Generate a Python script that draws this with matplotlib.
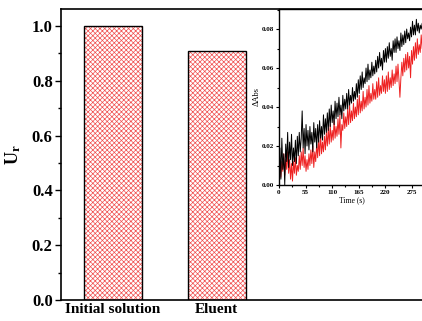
import numpy as np
import matplotlib
matplotlib.use("Agg")
import matplotlib.pyplot as plt
from matplotlib.ticker import MultipleLocator, FormatStrFormatter

plt.rcParams['font.family'] = ['Liberation Serif', 'DejaVu Serif']
plt.rcParams['font.weight'] = 'bold'
plt.rcParams['mathtext.fontset'] = 'custom'
plt.rcParams['mathtext.rm'] = 'Liberation Serif:bold'
plt.rcParams['mathtext.bf'] = 'Liberation Serif:bold'
plt.rcParams['mathtext.it'] = 'Liberation Serif:bold'
plt.rcParams['hatch.linewidth'] = 0.5

categories = ["Initial solution", "Eluent"]
ur_values = [1.0, 0.91]

time_s = np.arange(0, 300, 2)
black_abs = [
    0.010, 0.019, 0.003, 0.024, 0.008, 0.016, 0.000, 0.021, 0.012, 0.027,
    0.009, 0.022, 0.013, 0.026, 0.010, 0.019, 0.012, 0.023, 0.011, 0.025,
    0.015, 0.027, 0.017, 0.024, 0.038, 0.019, 0.029, 0.016, 0.031, 0.020,
    0.028, 0.018, 0.030, 0.021, 0.027, 0.017, 0.032, 0.022, 0.029, 0.019,
    0.031, 0.022, 0.033, 0.024, 0.030, 0.023, 0.036, 0.026, 0.034, 0.027,
    0.037, 0.028, 0.039, 0.030, 0.041, 0.032, 0.038, 0.031, 0.043, 0.034,
    0.042, 0.035, 0.045, 0.036, 0.041, 0.034, 0.046, 0.038, 0.044, 0.039,
    0.047, 0.039, 0.049, 0.041, 0.046, 0.042, 0.050, 0.043, 0.048, 0.044,
    0.052, 0.045, 0.054, 0.047, 0.056, 0.049, 0.058, 0.050, 0.055, 0.052,
    0.060, 0.053, 0.062, 0.054, 0.059, 0.055, 0.063, 0.056, 0.061, 0.057,
    0.064, 0.058, 0.066, 0.060, 0.068, 0.061, 0.065, 0.059, 0.069, 0.063,
    0.070, 0.063, 0.071, 0.065, 0.073, 0.066, 0.070, 0.064, 0.074, 0.068,
    0.075, 0.068, 0.076, 0.070, 0.074, 0.069, 0.078, 0.071, 0.077, 0.072,
    0.079, 0.073, 0.080, 0.075, 0.078, 0.074, 0.081, 0.076, 0.084, 0.077,
    0.082, 0.077, 0.085, 0.079, 0.083, 0.078, 0.082, 0.080, 0.083, 0.081,
]
red_abs = [
    0.006, 0.014, 0.004, 0.012, 0.007, 0.016, 0.005, 0.013, 0.008, 0.017,
    0.006, 0.013, 0.003, 0.011, 0.002, 0.012, 0.006, 0.014, 0.005, 0.010,
    0.007, 0.015, 0.008, 0.017, 0.010, 0.019, 0.009, 0.015, 0.007, 0.013,
    0.008, 0.016, 0.010, 0.018, 0.011, 0.020, 0.009, 0.017, 0.012, 0.021,
    0.014, 0.023, 0.015, 0.026, 0.016, 0.022, 0.017, 0.025, 0.018, 0.027,
    0.020, 0.029, 0.021, 0.031, 0.022, 0.028, 0.023, 0.033, 0.024, 0.030,
    0.025, 0.034, 0.026, 0.036, 0.019, 0.031, 0.028, 0.037, 0.029, 0.035,
    0.030, 0.039, 0.031, 0.041, 0.032, 0.038, 0.033, 0.042, 0.034, 0.040,
    0.035, 0.044, 0.036, 0.046, 0.037, 0.043, 0.038, 0.048, 0.039, 0.045,
    0.040, 0.049, 0.041, 0.051, 0.042, 0.047, 0.043, 0.052, 0.044, 0.049,
    0.044, 0.053, 0.045, 0.055, 0.046, 0.051, 0.047, 0.056, 0.048, 0.054,
    0.047, 0.056, 0.048, 0.058, 0.049, 0.055, 0.050, 0.059, 0.051, 0.057,
    0.052, 0.061, 0.053, 0.062, 0.054, 0.045, 0.055, 0.063, 0.056, 0.065,
    0.058, 0.067, 0.059, 0.068, 0.060, 0.066, 0.055, 0.069, 0.062, 0.071,
    0.064, 0.073, 0.065, 0.075, 0.067, 0.072, 0.068, 0.077, 0.070, 0.076,
]

fig = plt.figure(figsize=(4.22, 3.21), dpi=100)
ax = fig.add_axes([0.1445, 0.0654, 0.8605, 0.9066])
x = np.arange(len(categories))
ax.bar(x, ur_values, width=0.56, facecolor='white', edgecolor='#f05050',
       hatch='xxxxxxx', linewidth=0)
ax.bar(x, ur_values, width=0.56, fill=False, edgecolor='black', linewidth=1.0)
ax.set_xlim(-0.5, 3.0)
ax.set_ylim(0, 1.062)
ax.set_xticks(x)
ax.set_xticklabels(categories, fontsize=11, fontweight='bold')
ax.tick_params(axis='x', length=0, pad=2.5)
ax.yaxis.set_major_locator(MultipleLocator(0.2))
ax.yaxis.set_minor_locator(MultipleLocator(0.1))
ax.yaxis.set_major_formatter(FormatStrFormatter('%.1f'))
ax.tick_params(axis='y', which='major', direction='out', length=4, width=1,
               labelsize=12, pad=2)
ax.tick_params(axis='y', which='minor', direction='out', length=2.5, width=1)
for s in ax.spines.values():
    s.set_linewidth(1.2)
ax.set_ylabel(r'$\mathbf{U_r}$', fontsize=13, labelpad=6)

ins = fig.add_axes([0.661, 0.4237, 0.344, 0.5483])
ins.plot(time_s, red_abs, color='#ee2222', linewidth=0.7)
ins.plot(time_s, black_abs, color='black', linewidth=0.7)
ins.set_xlim(0, 300)
ins.set_ylim(0, 0.0903)
ins.set_xticks([0, 55, 110, 165, 220, 275])
ins.xaxis.set_minor_locator(MultipleLocator(27.5))
ins.yaxis.set_major_locator(MultipleLocator(0.02))
ins.yaxis.set_minor_locator(MultipleLocator(0.01))
ins.yaxis.set_major_formatter(FormatStrFormatter('%.2f'))
ins.tick_params(which='major', direction='out', length=2.5, width=0.8,
                labelsize=5, pad=1)
ins.tick_params(which='minor', direction='out', length=1.5, width=0.8)
for s in ins.spines.values():
    s.set_linewidth(1.0)
ins.set_xlabel('Time (s)', fontsize=5.5, labelpad=1)
ins.set_ylabel('ΔAbs', fontsize=6, labelpad=1)

fig.savefig('out.png', dpi=100)
